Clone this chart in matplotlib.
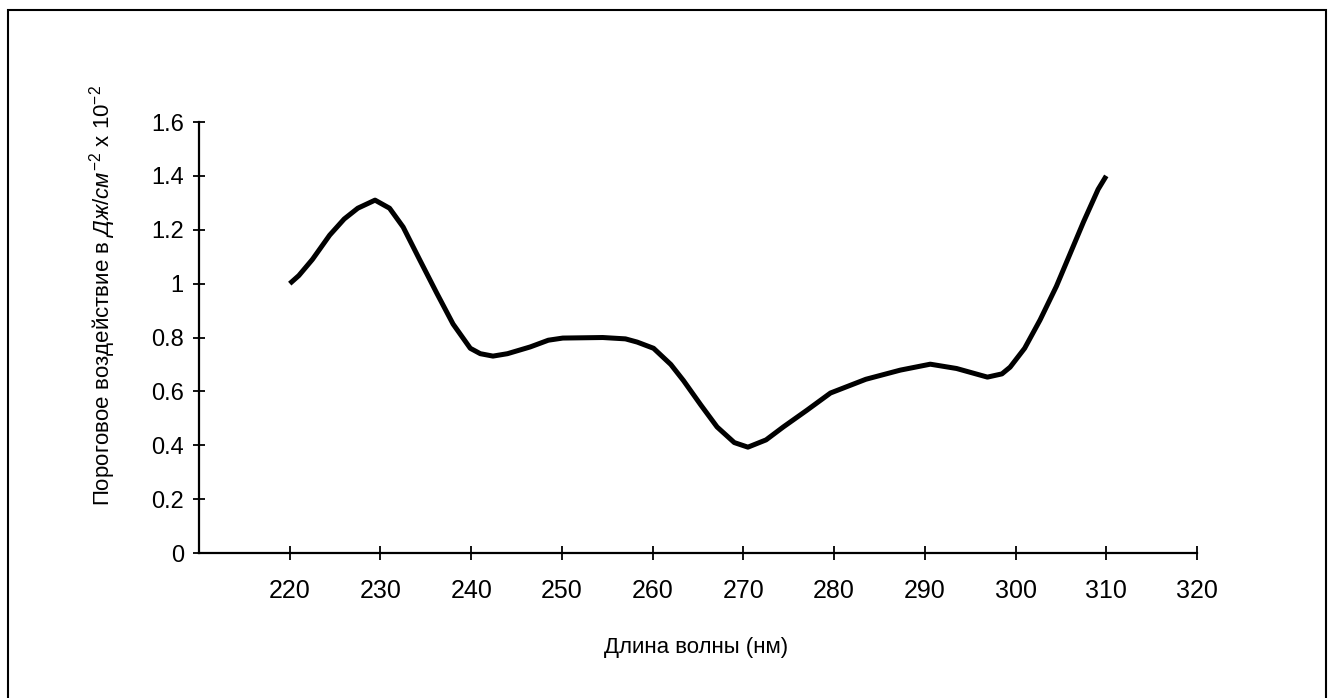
import matplotlib.pyplot as plt
from matplotlib.patches import Rectangle

plt.rcParams['font.family'] = ['Liberation Sans', 'DejaVu Sans']
plt.rcParams['mathtext.fontset'] = 'custom'
plt.rcParams['mathtext.rm'] = 'Liberation Sans'
plt.rcParams['mathtext.it'] = 'Liberation Sans:italic'

# values (wavelength, nm -> threshold dose)
wavelength = [220, 221, 222.5, 224.4, 226, 227.5, 229.4, 231, 232.5, 234.3,
              236.2, 238, 239.9, 241, 242.4, 244, 246.5, 248.5, 250.1, 254.5,
              257, 258.3, 260.1, 262, 263.4, 265.3, 267.1, 269, 270.5, 272.5,
              274.4, 277, 279.6, 283.5, 287.3, 290.6, 293.5, 296.9, 298.5,
              299.4, 301, 302.7, 304.5, 306, 307.5, 309.1, 310]
dose = [1.0, 1.03, 1.09, 1.18, 1.24, 1.28, 1.31, 1.28, 1.21, 1.09,
        0.965, 0.85, 0.76, 0.74, 0.731, 0.74, 0.765, 0.79, 0.798, 0.80,
        0.795, 0.783, 0.76, 0.70, 0.64, 0.55, 0.468, 0.41, 0.393, 0.42,
        0.468, 0.53, 0.594, 0.645, 0.679, 0.701, 0.685, 0.653, 0.665,
        0.69, 0.76, 0.865, 0.99, 1.11, 1.23, 1.35, 1.40]
xticks = [220, 230, 240, 250, 260, 270, 280, 290, 300, 310, 320]
yticks = [0, 0.2, 0.4, 0.6, 0.8, 1, 1.2, 1.4, 1.6]
yticklabels = ['0', '0.2', '0.4', '0.6', '0.8', '1', '1.2', '1.4', '1.6']

fig = plt.figure(figsize=(13.34, 6.98), dpi=100)
ax = fig.add_axes([0.1492, 0.2077, 0.7481, 0.6175])

ax.plot(wavelength, dose, color='black', linewidth=3.6,
        solid_capstyle='butt', solid_joinstyle='round')

ax.set_xlim(210, 320)
ax.set_ylim(0, 1.6)
ax.set_xticks(xticks)
ax.set_xticklabels([str(t) for t in xticks])
ax.set_yticks(yticks)
ax.set_yticklabels(yticklabels)

for s in ['top', 'right']:
    ax.spines[s].set_visible(False)
for s in ['left', 'bottom']:
    ax.spines[s].set_linewidth(1.6)
    ax.spines[s].set_color('black')

ax.tick_params(axis='y', direction='inout', length=8, width=1.3,
               labelsize=17, pad=7)
ax.tick_params(axis='x', direction='inout', length=10, width=1.3,
               labelsize=18, pad=14)

fig.text(0.0765, 0.576,
         r'Пороговое воздействие в $\mathit{Дж/см}^{-2}$ x 10$^{-2}$',
         rotation=90, ha='center', va='center', fontsize=16)
fig.text(0.522, 0.073, 'Длина волны (нм)', ha='center', va='center',
         fontsize=16)

# outer frame around the chart
fig.patches.append(Rectangle((0.006, -0.01), 0.988, 0.996, transform=fig.transFigure,
                             fill=False, edgecolor='black', linewidth=1.5))

fig.savefig('out.png', dpi=100)
